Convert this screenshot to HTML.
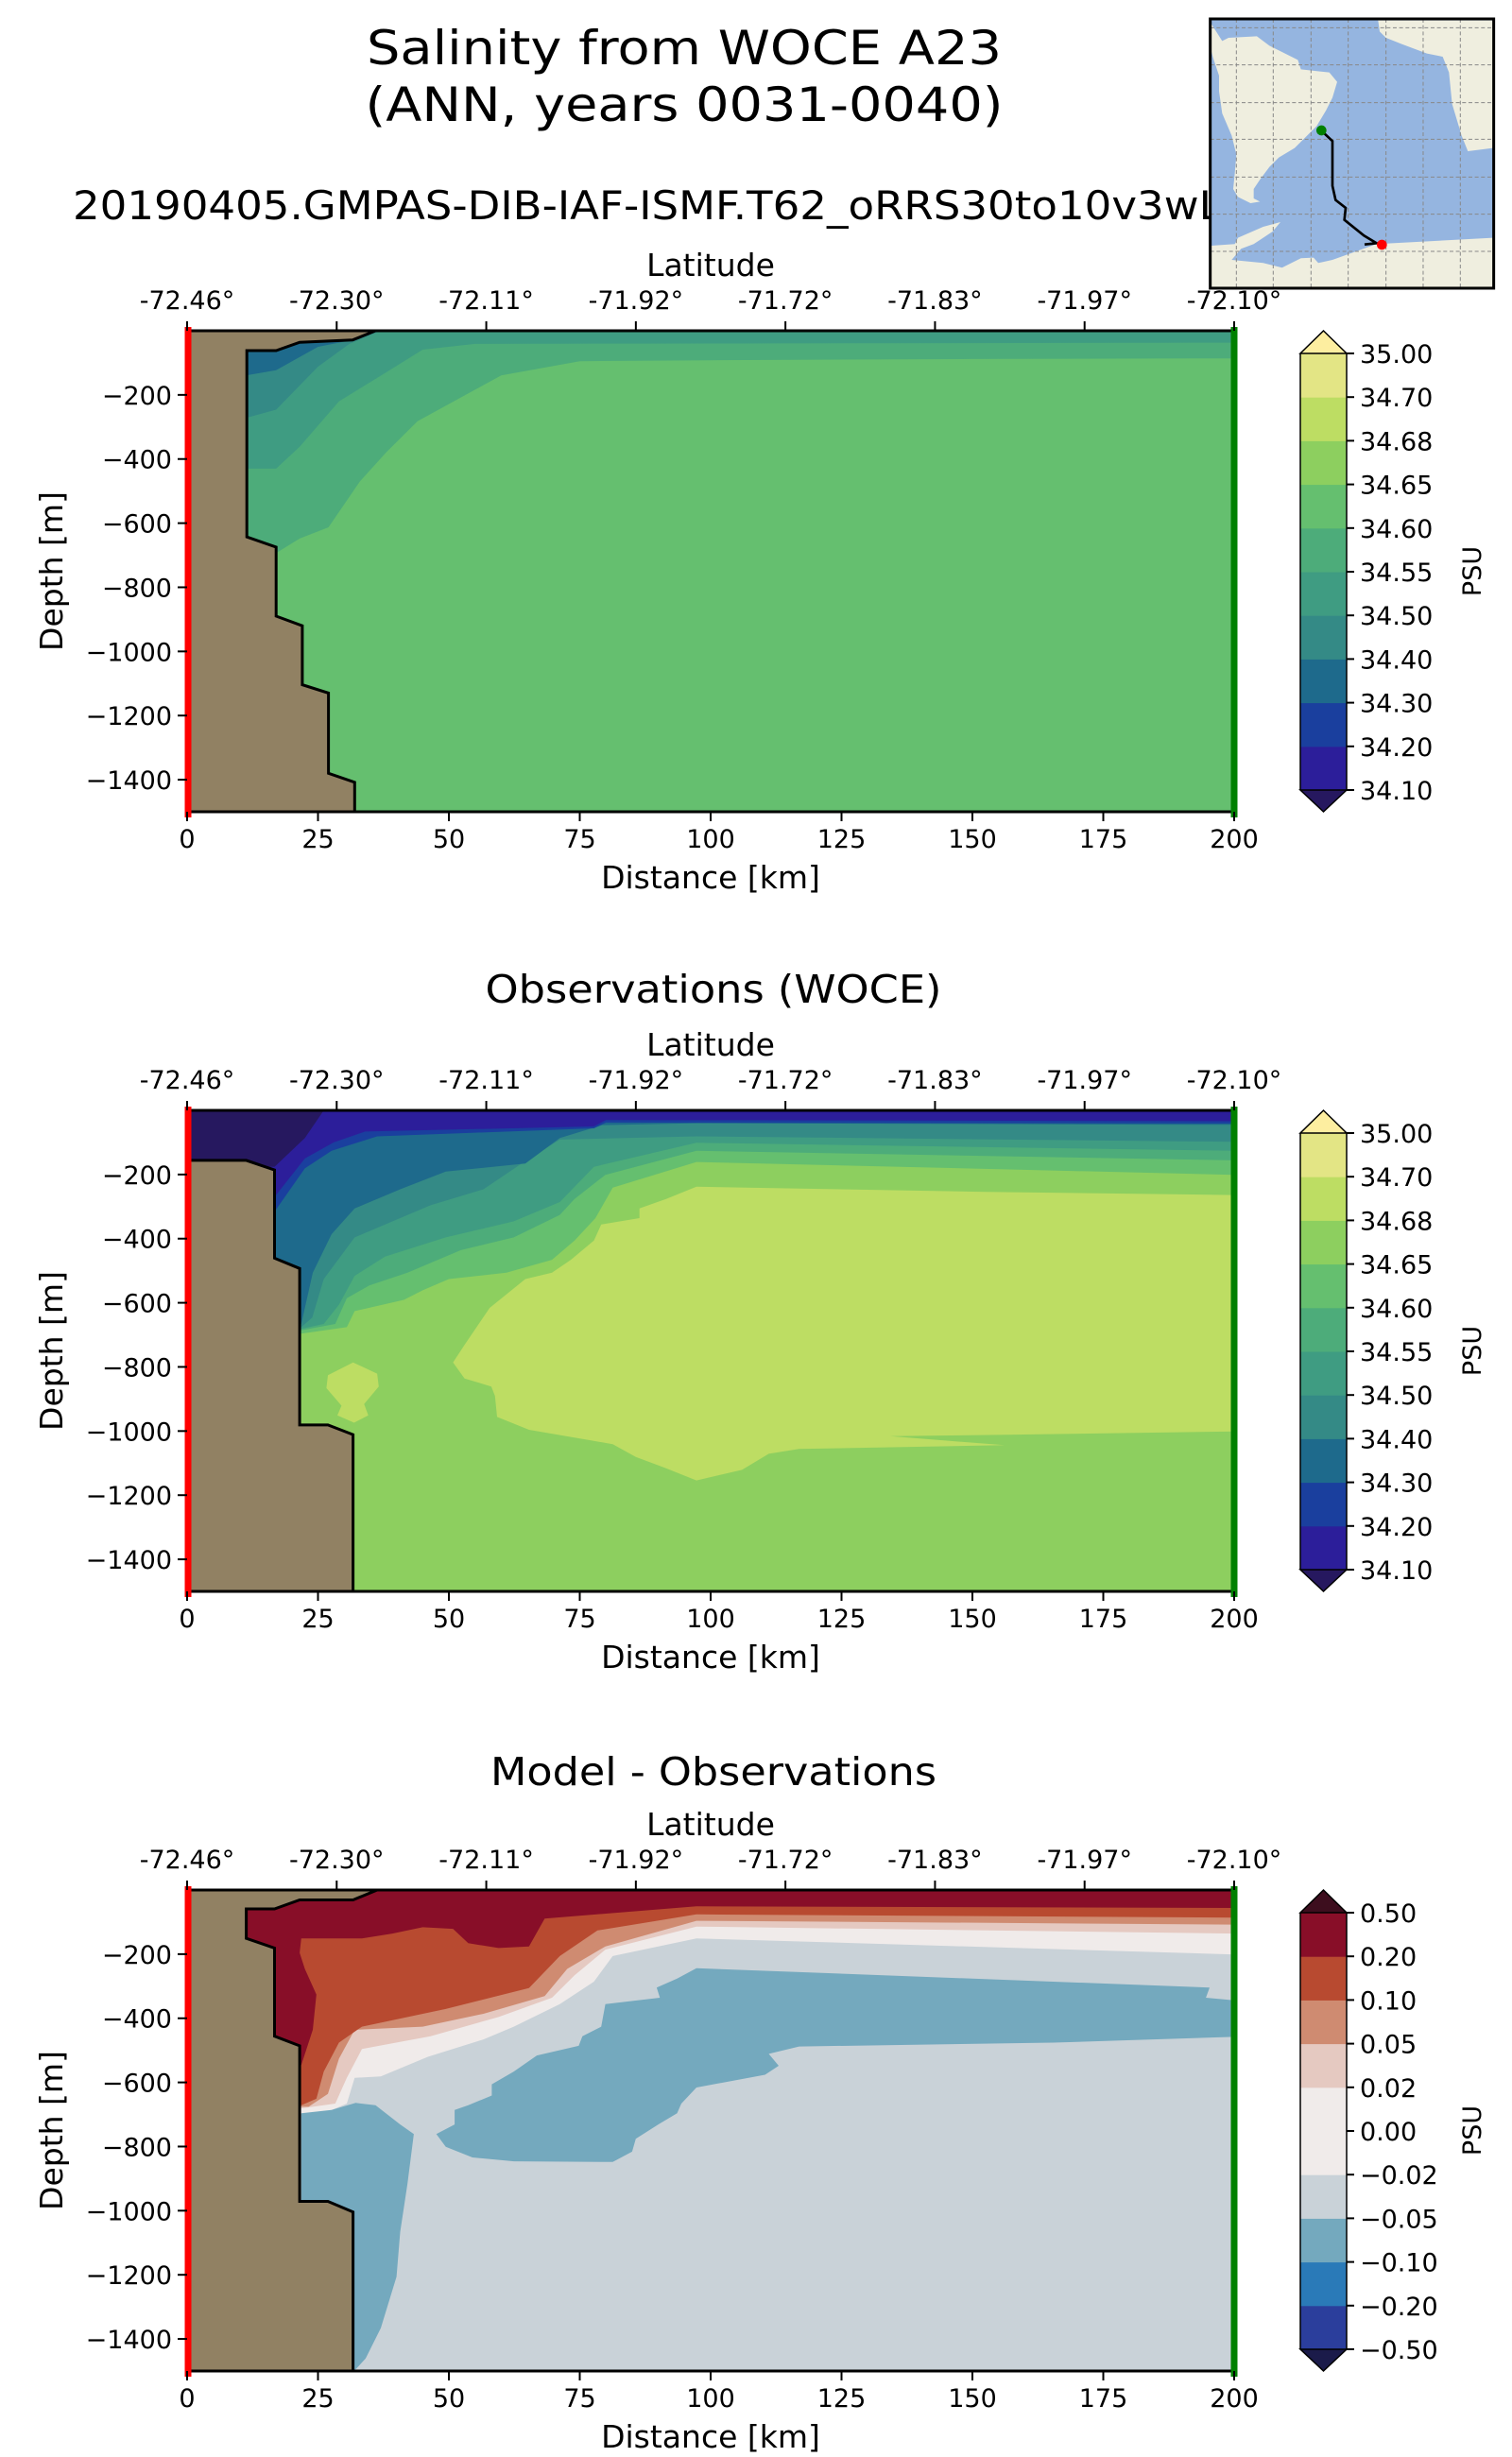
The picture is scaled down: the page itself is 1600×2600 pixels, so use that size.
<!DOCTYPE html>
<html><head><meta charset="utf-8"><style>
html,body{margin:0;padding:0;background:#fff;}
svg{display:block;font-family:"DejaVu Sans","Liberation Sans",sans-serif;}
</style></head><body>
<svg id="fig" xmlns="http://www.w3.org/2000/svg" width="1600" height="2600" viewBox="0 0 1600 2600">
<rect x="0" y="0" width="1600" height="2600" fill="#fff"/>
<text x="724" y="68" font-size="50" text-anchor="middle" textLength="672" lengthAdjust="spacingAndGlyphs">Salinity from WOCE A23</text>
<text x="724" y="128" font-size="50" text-anchor="middle" textLength="675" lengthAdjust="spacingAndGlyphs">(ANN, years 0031-0040)</text>
<text x="77" y="232" font-size="42" textLength="1230" lengthAdjust="spacingAndGlyphs">20190405.GMPAS-DIB-IAF-ISMF.T62_oRRS30to10v3wLI</text>
<text x="755" y="1061" font-size="41" text-anchor="middle" textLength="483" lengthAdjust="spacingAndGlyphs">Observations (WOCE)</text>
<text x="755" y="1889" font-size="41" text-anchor="middle" textLength="472" lengthAdjust="spacingAndGlyphs">Model - Observations</text>
<g id="panels"></g>
<g id="inset" transform="translate(1270,10) scale(0.3333)">
<rect x="32" y="30" width="900" height="855" fill="#95b5e0"/>
<path d="M35,45 L70,100 L90,90 L180,85 L220,115 L310,160 L320,190 L410,200 L435,230 L420,280 L400,320 L370,370 L320,420 L300,440 L250,470 L220,500 L190,540 L170,570 L170,600 L190,610 L160,615 L120,595 L105,570 L110,520 L115,460 L100,400 L70,330 L60,260 L60,210 L40,150 L35,130 Z" fill="#efeedf"/>
<path d="M565,35 L930,35 L930,440 L850,450 L830,400 L800,300 L790,200 L770,150 L720,140 L640,110 L590,90 L570,70 Z" fill="#efeedf"/>
<path d="M35,885 L35,750 L110,745 L120,725 L200,690 L255,675 L230,705 L170,745 L130,760 L100,795 L200,805 L260,820 L320,790 L360,788 L375,805 L420,795 L560,745 L930,725 L930,885 Z" fill="#efeedf"/>
<g stroke="#888" stroke-width="3" stroke-dasharray="12,8" fill="none">
<path d="M115,30V885M232,30V885M352,30V885M470,30V885M590,30V885M708,30V885M826,30V885"/>
<path d="M32,58H932M32,176H932M32,296H932M32,412H932M32,532H932M32,650H932M32,768H932"/>
</g>
<path d="M385,385 L420,418 L420,560 L430,605 L462,630 L458,668 L520,718 L560,742 L522,746" fill="none" stroke="#000" stroke-width="8"/>
<circle cx="385" cy="384" r="16" fill="#008000"/>
<circle cx="577" cy="747" r="16" fill="#ff0000"/>
<rect x="32" y="30" width="900" height="855" fill="none" stroke="#000" stroke-width="9"/>
</g>
</svg>
<script>
// ---- data ----
const distTicks = [0,25,50,75,100,125,150,175,200];
const depthTicks = [-200,-400,-600,-800,-1000,-1200,-1400];
const latLabels = ["-72.46°","-72.30°","-72.11°","-71.92°","-71.72°","-71.83°","-71.97°","-72.10°"];
const salLevels = ["34.10","34.20","34.30","34.40","34.50","34.55","34.60","34.65","34.68","34.70","35.00"];
const salColors = ["#2c1e9a","#1a3f9e","#1e6a8c","#348a86","#3f9c82","#4dac7a","#65bf6f","#8dcf5f","#bddd63","#e3e585"];
const salExt = ["#26185f","#fdeea0"];
const diffLevels = ["\u22120.50","\u22120.20","\u22120.10","\u22120.05","\u22120.02","0.00","0.02","0.05","0.10","0.20","0.50"];
const diffColors = ["#2b3e9c","#2a7ab8","#74a9be","#c9d2d8","#f0ebea","#f0ebea","#e5c9c1","#cf8b71","#b84a30","#880e28"];
const diffExt = ["#1b1b4a","#3d0e1e"];

// bathymetry (km, depth m)
const bathyModel = [[0,0],[36,0],[31.6,29],[21.5,36],[17,62],[11.4,62],[11.4,643],[17,675],[17,890],[22,920],[22,1104],[27,1130],[27,1380],[32,1408],[32,1500],[0,1500]];
const bathyObs = [[0,156],[11.3,156],[16.7,186],[16.7,461],[21.5,493],[21.5,981],[26.9,981],[31.7,1011],[31.7,1500],[0,1500]];
const bathyDiff = [[0,0],[36.3,0],[31.7,31],[21.5,31],[16.7,59],[11.3,59],[11.3,151],[16.7,181],[16.7,456],[21.5,486],[21.5,971],[26.9,971],[31.7,1004],[31.7,1500],[0,1500]];

// model salinity contour regions (drawn over background level index 6)
const m_lt60 = [[0,0],[200,0],[200,86],[150,88],[100,92],[75,95],[60,139],[55,184],[44,282],[38,380],[33,470],[27,613],[21.5,648],[17,693],[0,693]];
const m_lt55 = [[0,0],[200,0],[200,37],[55,41],[45,59],[38,130],[29,220],[21.5,362],[17,430],[0,430]];
const m_lt50 = [[0,0],[37,0],[31,41],[25,112],[17,246],[11,273],[0,273]];
const m_lt40 = [[0,0],[36,0],[31.6,29],[25,50],[17,123],[11,140],[0,140]];

// observed salinity regions (background index 7)
const o_lt65 = [[0,0],[200,0],[200,201],[97.3,161],[81.3,241],[78,336],[74,406],[69.7,466],[61,506],[50,526],[45,561],[41.4,591],[32,626],[30.5,676],[21.8,696],[0,696]];
const o_lt60 = [[0,0],[200,0],[200,156],[97.3,126],[79.9,201],[74,276],[71.2,326],[62.4,396],[52.3,436],[42.1,506],[34.8,546],[30.5,586],[28.3,666],[21.8,686],[0,686]];
const o_lt55 = [[0,0],[200,0],[200,126],[97.3,101],[77.7,176],[71.2,286],[62.4,346],[49.4,396],[37.8,456],[32,516],[29,606],[26.1,666],[21.8,681],[0,681]];
const o_lt50 = [[0,0],[200,0],[200,98],[97.3,81],[71.2,91],[63.9,166],[56.6,246],[46.5,296],[32,396],[26.1,526],[23.9,646],[21.8,676],[0,676]];
const o_lt40 = [[0,0],[200,0],[200,45],[97.3,40],[79.3,46],[71.2,86],[64.6,166],[49.4,191],[40.7,246],[32,306],[27.6,386],[24,506],[21.8,666],[0,666]];
const o_lt30 = [[0,0],[200,0],[200,41],[80,38],[77.7,56],[36.3,81],[27.6,126],[22.5,181],[16.7,316],[0,316]];
const o_lt20 = [[0,0],[200,0],[200,34],[80,30],[77.7,50],[34,66],[28,100],[22.5,150],[16.7,270],[0,270]];
const o_lt10 = [[0,0],[26.1,0],[22.5,86],[16.7,176],[0,176]];
const o_gt68 = [[97.3,238],[152.5,254],[200,264],[200,1001],[158.3,1011],[134.3,1016],[156.1,1044],[116.9,1056],[111.1,1071],[106,1121],[97.3,1154],[91.5,1116],[85.7,1081],[81.3,1041],[65.3,996],[59.2,956],[58.8,891],[58.1,861],[53,836],[50.8,786],[53,731],[57.8,616],[64.6,526],[69.7,506],[73.3,466],[77.7,406],[79.1,356],[86.4,336],[86.4,306],[91.5,276]];
const o_gt68b = [[31.7,786],[36.3,821],[36.6,861],[33.8,916],[34.6,951],[31.9,974],[28.7,951],[29.5,921],[26.6,866],[26.9,826]];

// difference regions (background index 3)
const d_ltm05a = [[97.3,244],[195.3,304],[194.6,336],[200,344],[200,458],[165.5,476],[116.9,488],[111.1,511],[113,548],[110.4,576],[97.3,616],[94.4,666],[93.6,696],[90,731],[85.7,776],[85,816],[81.3,848],[62.4,846],[54.5,834],[49.4,801],[47.6,761],[51.1,731],[51.1,686],[53.7,671],[58.2,641],[58.2,606],[62.4,566],[66.8,516],[74.8,486],[75.5,456],[79.1,426],[79.9,356],[90.3,336],[89.7,304],[93.6,276]];
const d_ltm05b = [[21.8,696],[27.6,686],[32.2,664],[36,671],[40.7,731],[43.3,761],[42.1,916],[40.7,1066],[40,1206],[37,1366],[34.1,1461],[31.9,1500],[21.8,1500]];
const d_gtm02 = [[0,0],[200,0],[200,201],[97.3,151],[81.3,206],[77.7,286],[71.2,356],[62.4,426],[56.6,466],[46,520],[37,581],[32,586],[30.5,666],[26.9,691],[21.8,698],[0,698]];
const d_gt02 = [[0,0],[200,0],[200,136],[97.3,114],[79.9,186],[74,266],[69.7,336],[59.5,396],[46.5,456],[33.4,496],[30.5,586],[28.3,666],[21.8,681],[0,681]];
const d_gt05 = [[0,0],[200,0],[200,108],[97.3,96],[79.9,176],[72.6,246],[68.3,331],[56.6,386],[45,426],[32,436],[29,526],[26.9,636],[23.2,676],[0,676]];
const d_gt10 = [[0,0],[200,0],[200,86],[97.3,76],[78.4,126],[71.2,206],[65.3,306],[49.4,371],[33.4,426],[29,476],[26.1,566],[24.7,651],[21.8,671],[0,671]];
const d_gt20 = [[0,0],[200,0],[200,56],[97.3,51],[68.3,89],[65.3,176],[59.5,181],[53.7,166],[50.8,121],[45,116],[39.2,136],[33.4,151],[21.8,151],[21.5,196],[22.5,246],[24.7,326],[24,436],[21.8,546],[0,546]];

// ---- drawing ----
const NS = "http://www.w3.org/2000/svg";
const X0 = 198, X1 = 1306, PH = 509, DMAX = 1500, KMAX = 200;
const CBX = 1376, CBW = 49;
function sx(km){ return X0 + km / KMAX * (X1 - X0); }
function sy(top, d){ return top + d / DMAX * PH; }
function mk(tag, attrs, parent){
  const e = document.createElementNS(NS, tag);
  for (const k in attrs) e.setAttribute(k, attrs[k]);
  parent.appendChild(e);
  return e;
}
function poly(g, pts, top, fill, name, stroke){
  const p = mk("polygon", {points: pts.map(q => sx(q[0]).toFixed(1) + "," + sy(top, q[1]).toFixed(1)).join(" "), fill: fill}, g);
  if (stroke) { p.setAttribute("stroke", "#000"); p.setAttribute("stroke-width", "3"); p.setAttribute("stroke-linejoin", "miter"); }
  
  
  return p;
}
function txt(g, x, y, s, size, anchor, name){
  const t = mk("text", {x: x, y: y, "font-size": size, "text-anchor": anchor}, g);
  t.textContent = s;
  
  
  return t;
}

const root = document.getElementById("panels");
const panels = [
  {top: 350, bg: salColors[6], regions: [[m_lt60, salColors[5]], [m_lt55, salColors[4]], [m_lt50, salColors[3]], [m_lt40, salColors[2]]], bathy: bathyModel, levels: salLevels, colors: salColors, ext: salExt, name: "model"},
  {top: 1175, bg: salColors[7], regions: [[o_lt65, salColors[6]], [o_lt60, salColors[5]], [o_lt55, salColors[4]], [o_lt50, salColors[3]], [o_lt40, salColors[2]], [o_lt30, salColors[1]], [o_lt20, salColors[0]], [o_lt10, salExt[0]], [o_gt68, salColors[8]], [o_gt68b, salColors[8]]], bathy: bathyObs, levels: salLevels, colors: salColors, ext: salExt, name: "obs"},
  {top: 2000, bg: diffColors[3], regions: [[d_gtm02, diffColors[4]], [d_gt02, diffColors[6]], [d_gt05, diffColors[7]], [d_gt10, diffColors[8]], [d_gt20, diffColors[9]], [d_ltm05a, diffColors[2]], [d_ltm05b, diffColors[2]]], bathy: bathyDiff, levels: diffLevels, colors: diffColors, ext: diffExt, name: "diff"}
];

panels.forEach(P => {
  const top = P.top, bot = top + PH;
  const g = mk("g", {}, root);
  
  
  const clipId = "clip-" + P.name;
  const cp = mk("clipPath", {id: clipId}, g);
  mk("rect", {x: X0, y: top, width: X1 - X0, height: PH}, cp);
  const field = mk("g", {"clip-path": "url(#" + clipId + ")"}, g);
  
  
  poly(field, [[0,0],[200,0],[200,1500],[0,1500]], top, P.bg, P.name + "-background-level", false);
  P.regions.forEach((r, i) => poly(field, r[0], top, r[1], P.name + "-contour-region", false));
  poly(field, P.bathy, top, "#918163", P.name + "-bathymetry", true);
  // axes frame
  const fr = mk("rect", {x: X0, y: top, width: X1 - X0, height: PH, fill: "none", stroke: "#000", "stroke-width": 3}, g);
  
  
  // endpoints lines
  const rl = mk("line", {x1: X0 + 1, y1: top - 4, x2: X0 + 1, y2: bot + 6, stroke: "#ff0000", "stroke-width": 7}, g);
  
  
  const gl = mk("line", {x1: X1, y1: top - 4, x2: X1, y2: bot + 6, stroke: "#008000", "stroke-width": 7}, g);
  
  
  // bottom x ticks
  distTicks.forEach(v => {
    const x = sx(v);
    mk("line", {x1: x, y1: bot, x2: x, y2: bot + 10, stroke: "#000", "stroke-width": 2}, g);
    txt(g, x, bot + 38, String(v), 27, "middle", "x-tick-label");
  });
  txt(g, (X0 + X1) / 2, bot + 81, "Distance [km]", 33, "middle", "x-axis-title");
  // top lat ticks
  latLabels.forEach((s, i) => {
    const x = X0 + i * (X1 - X0) / (latLabels.length - 1);
    mk("line", {x1: x, y1: top, x2: x, y2: top - 10, stroke: "#000", "stroke-width": 2}, g);
    txt(g, x, top - 23, s, 27, "middle", "latitude-tick-label");
  });
  txt(g, (X0 + X1) / 2, top - 58, "Latitude", 33, "middle", "top-axis-title");
  // y ticks
  depthTicks.forEach(v => {
    const y = sy(top, -v);
    mk("line", {x1: X0, y1: y, x2: X0 - 10, y2: y, stroke: "#000", "stroke-width": 2}, g);
    txt(g, X0 - 16, y + 10, "\u2212" + Math.abs(v), 27, "end", "y-tick-label");
  });
  const yt = txt(g, 0, 0, "Depth [m]", 33, "middle", "y-axis-title");
  yt.setAttribute("transform", "translate(66," + (top + PH / 2) + ") rotate(-90)");
  // colorbar
  const cb = mk("g", {}, g);
  
  
  const cTop = top + 24, cBot = bot - 23, n = P.colors.length, bh = (cBot - cTop) / n;
  P.colors.forEach((c, i) => {
    const r = mk("rect", {x: CBX, y: cBot - (i + 1) * bh, width: CBW, height: bh + 0.5, fill: c}, cb);
    
    
  });
  const lo = mk("polygon", {points: `${CBX},${cBot} ${CBX + CBW},${cBot} ${CBX + CBW / 2},${bot}`, fill: P.ext[0], stroke: "#000", "stroke-width": 1.5}, cb);
  
  
  const hi = mk("polygon", {points: `${CBX},${cTop} ${CBX + CBW},${cTop} ${CBX + CBW / 2},${top}`, fill: P.ext[1], stroke: "#000", "stroke-width": 1.5}, cb);
  
  
  mk("polyline", {points: `${CBX},${cTop} ${CBX},${cBot}`, stroke: "#000", "stroke-width": 1.5, fill: "none"}, cb);
  mk("polyline", {points: `${CBX + CBW},${cTop} ${CBX + CBW},${cBot}`, stroke: "#000", "stroke-width": 1.5, fill: "none"}, cb);
  P.levels.forEach((s, i) => {
    const y = cBot - i * bh;
    mk("line", {x1: CBX + CBW, y1: y, x2: CBX + CBW + 8, y2: y, stroke: "#000", "stroke-width": 2}, cb);
    txt(cb, CBX + CBW + 14, y + 10, s, 27, "start", "colorbar-tick-label");
  });
  const pu = txt(cb, 0, 0, "PSU", 27, "middle", "colorbar-title");
  pu.setAttribute("transform", "translate(1567," + (top + PH / 2) + ") rotate(-90)");
});
</script>
</body></html>
